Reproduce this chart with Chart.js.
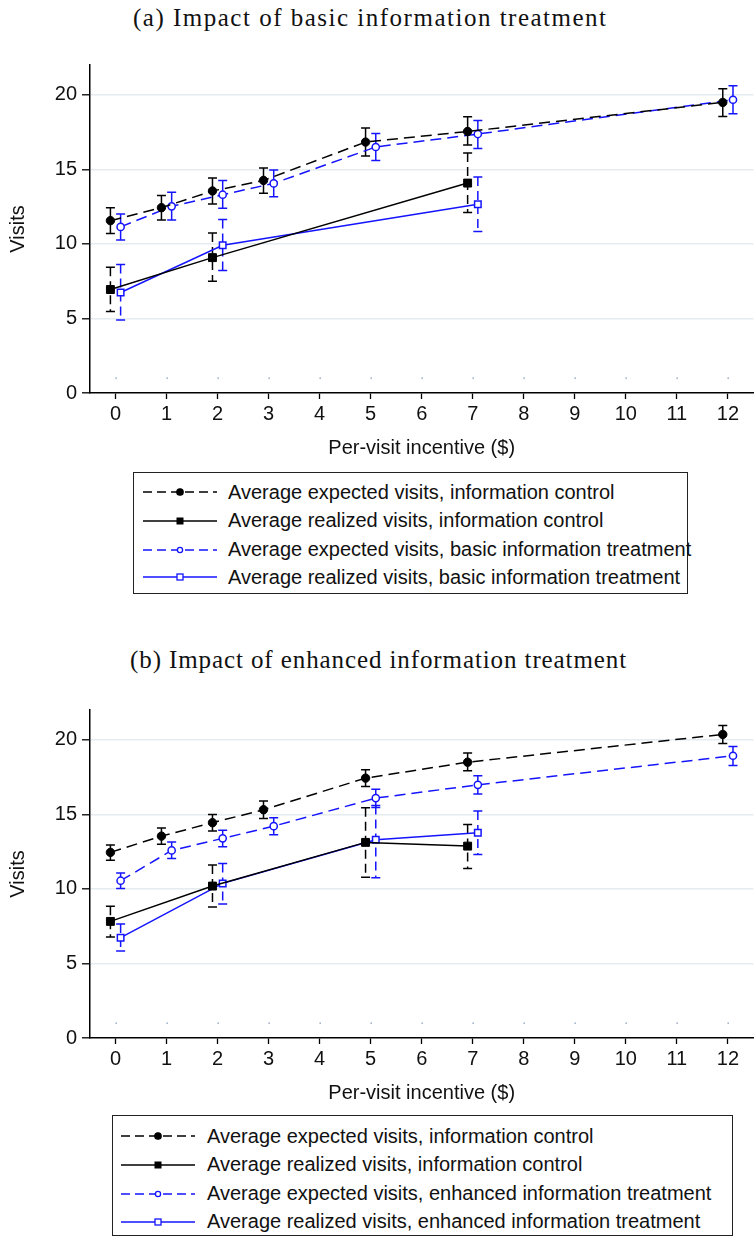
<!DOCTYPE html>
<html>
<head>
<meta charset="utf-8">
<script src="https://cdn.jsdelivr.net/npm/chart.js@4.4.1/dist/chart.umd.min.js"></script>
<style>
  html,body{margin:0;padding:0;background:#fff;}
  body{width:754px;height:1239px;position:relative;overflow:hidden;}
  .ptitle{position:absolute;font-family:"Liberation Serif","DejaVu Serif",serif;font-size:25px;letter-spacing:1.5px;color:#111;white-space:nowrap;line-height:1;}
  .cwrap{position:absolute;left:0;width:754px;height:430px;overflow:hidden;}
  .legend{position:absolute;border:1px solid #222;box-sizing:border-box;background:#fff;}
  .row{position:absolute;left:0;height:26px;display:flex;align-items:center;white-space:nowrap;}
  .row svg{flex:none;}
  .row span{font-family:"Liberation Sans",Arial,sans-serif;font-size:20px;color:#111;}
</style>
</head>
<body>
<div class="ptitle" id="ta" style="left:133px;top:5px;">(a) Impact of basic information treatment</div>
<div class="cwrap" style="top:40px;"><canvas id="ca" width="760" height="430"></canvas></div>
<div class="legend" id="la" style="left:133px;top:472px;width:555px;height:122px;"></div>

<div class="ptitle" id="tb" style="left:130px;top:647px;letter-spacing:0.9px;">(b) Impact of enhanced information treatment</div>
<div class="cwrap" style="top:685px;"><canvas id="cb" width="760" height="430"></canvas></div>
<div class="legend" id="lb" style="left:112px;top:1115px;width:621px;height:121px;"></div>

<script>
// ---------- DATA ----------
const incentives = [0, 1, 2, 3, 5, 7, 12];
const realizedIncentivesA = [0, 2, 7];
const realizedIncentivesB = [0, 2, 5, 7];
const xTickValues = [0, 1, 2, 3, 4, 5, 6, 7, 8, 9, 10, 11, 12];
const yTickValues = [0, 5, 10, 15, 20];

const seriesNamesA = [
  "Average expected visits, information control",
  "Average realized visits, information control",
  "Average expected visits, basic information treatment",
  "Average realized visits, basic information treatment"
];
const seriesNamesB = [
  "Average expected visits, information control",
  "Average realized visits, information control",
  "Average expected visits, enhanced information treatment",
  "Average realized visits, enhanced information treatment"
];

// Panel (a)
const aExpCtrl   = [11.56, 12.43, 13.55, 14.26, 16.83, 17.54, 19.49];
const aExpCtrlLo = [10.69, 11.60, 12.68, 13.39, 15.89, 16.63, 18.55];
const aExpCtrlHi = [12.43, 13.24, 14.42, 15.09, 17.77, 18.53, 20.40];
const aRealCtrl   = [6.94, 9.08, 14.08];
const aRealCtrlLo = [5.47, 7.50, 12.10];
const aRealCtrlHi = [8.44, 10.74, 16.10];
const aExpTrt   = [11.14, 12.52, 13.30, 14.06, 16.50, 17.37, 19.67];
const aExpTrtLo = [10.27, 11.60, 12.39, 13.17, 15.60, 16.40, 18.73];
const aExpTrtHi = [12.00, 13.46, 14.26, 14.96, 17.41, 18.28, 20.60];
const aRealTrt   = [6.74, 9.91, 12.66];
const aRealTrtLo = [4.89, 8.21, 10.83];
const aRealTrtHi = [8.62, 11.63, 14.49];

// Panel (b)
const bExpCtrl   = [12.45, 13.54, 14.44, 15.31, 17.43, 18.50, 20.36];
const bExpCtrlLo = [11.93, 13.00, 13.88, 14.73, 16.87, 17.92, 19.75];
const bExpCtrlHi = [12.94, 14.08, 14.99, 15.89, 17.99, 19.11, 20.96];
const bRealCtrl   = [7.82, 10.19, 13.12, 12.87];
const bRealCtrlLo = [6.77, 8.78, 10.79, 11.37];
const bRealCtrlHi = [8.83, 11.60, 15.44, 14.32];
const bExpTrt   = [10.55, 12.58, 13.39, 14.21, 16.09, 16.98, 18.93];
const bExpTrtLo = [10.03, 12.04, 12.83, 13.63, 15.46, 16.36, 18.28];
const bExpTrtHi = [11.06, 13.14, 13.94, 14.77, 16.69, 17.59, 19.55];
const bRealTrt   = [6.73, 10.37, 13.30, 13.77];
const bRealTrtLo = [5.83, 8.98, 10.75, 12.31];
const bRealTrtHi = [7.64, 11.71, 15.60, 15.22];

// ---------- STYLE ----------
const BLACK = '#000000';
const BLUE = '#1414ff';
const SHIFT = 0.1; // control drawn slightly left, treatment slightly right
const FONT = '"Liberation Sans", Arial, sans-serif';
const FS = 20;

function pts(xs, ys, dx) { return xs.map((x, i) => ({x: x + dx, y: ys[i]})); }

function makeDatasets(names, ec, ecl, ech, rx, rc, rcl, rch, et, etl, eth, rt, rtl, rth) {
  return [
    {label: names[0], data: pts(incentives, ec, -SHIFT), errLo: ecl, errHi: ech, errDash: [],
     borderColor: BLACK, backgroundColor: BLACK, borderDash: [11, 6], borderWidth: 1.5,
     pointStyle: 'circle', pointRadius: 4.2, pointBackgroundColor: BLACK, pointBorderColor: BLACK, pointBorderWidth: 1},
    {label: names[1], data: pts(rx, rc, -SHIFT), errLo: rcl, errHi: rch, errDash: [9, 5],
     borderColor: BLACK, backgroundColor: BLACK, borderDash: [], borderWidth: 1.5,
     pointStyle: 'rect', pointRadius: 5.6, pointBackgroundColor: BLACK, pointBorderColor: BLACK, pointBorderWidth: 1},
    {label: names[2], data: pts(incentives, et, SHIFT), errLo: etl, errHi: eth, errDash: [],
     borderColor: BLUE, backgroundColor: BLUE, borderDash: [11, 6], borderWidth: 1.5,
     pointStyle: 'circle', pointRadius: 3.6, pointBackgroundColor: '#ffffff', pointBorderColor: BLUE, pointBorderWidth: 1.5},
    {label: names[3], data: pts(rx, rt, SHIFT), errLo: rtl, errHi: rth, errDash: [9, 5],
     borderColor: BLUE, backgroundColor: BLUE, borderDash: [], borderWidth: 1.5,
     pointStyle: 'rect', pointRadius: 4.6, pointBackgroundColor: '#ffffff', pointBorderColor: BLUE, pointBorderWidth: 1.5}
  ];
}

const errorBarPlugin = {
  id: 'errorBars',
  beforeDatasetsDraw(chart) {
    const ctx = chart.ctx, xs = chart.scales.x, ys = chart.scales.y;
    ctx.save();
    // faint marker dots near the bottom of the plot at each x tick
    ctx.fillStyle = '#7891ae';
    xs.ticks.forEach(t => {
      const px = Math.round(xs.getPixelForValue(t.value));
      const py = Math.round(ys.getPixelForValue(1));
      ctx.fillRect(px - 0.5, py - 0.5, 1.3, 1.3);
    });
    ctx.lineWidth = 1.5;
    chart.data.datasets.forEach(ds => {
      ctx.strokeStyle = ds.borderColor;
      ds.data.forEach((p, i) => {
        const x = xs.getPixelForValue(p.x);
        const y1 = ys.getPixelForValue(ds.errLo[i]);
        const y2 = ys.getPixelForValue(ds.errHi[i]);
        ctx.setLineDash(ds.errDash);
        ctx.beginPath(); ctx.moveTo(x, y2); ctx.lineTo(x, y1); ctx.stroke();
        ctx.setLineDash([]);
        ctx.beginPath();
        ctx.moveTo(x - 4.5, y1); ctx.lineTo(x + 4.5, y1);
        ctx.moveTo(x - 4.5, y2); ctx.lineTo(x + 4.5, y2);
        ctx.stroke();
      });
    });
    ctx.restore();
  }
};

function makeChart(id, datasets) {
  return new Chart(document.getElementById(id), {
    type: 'line',
    data: {datasets},
    plugins: [errorBarPlugin],
    options: {
      responsive: false,
      animation: false,
      layout: {padding: {top: 25, right: 0, left: 0, bottom: 0}},
      plugins: {legend: {display: false}, tooltip: {enabled: false}},
      elements: {line: {tension: 0}},
      scales: {
        x: {
          type: 'linear', min: -0.5, max: 12.5,
          afterBuildTicks: s => { s.ticks = xTickValues.map(v => ({value: v})); },
          afterFit: s => { s.height = 77; },
          grid: {drawOnChartArea: false, drawTicks: true, tickLength: 6, tickColor: '#000', tickWidth: 1.3},
          border: {display: true, color: '#000', width: 1.5},
          ticks: {color: '#111', font: {family: FONT, size: FS}, padding: 3, maxRotation: 0, autoSkip: false},
          title: {display: true, text: 'Per-visit incentive ($)', color: '#111', font: {family: FONT, size: FS}, padding: {top: 0, bottom: 10}}
        },
        y: {
          type: 'linear', min: 0, max: 22,
          afterBuildTicks: s => { s.ticks = yTickValues.map(v => ({value: v})); },
          afterFit: s => { s.width = 90; },
          grid: {color: c => (c.tick && c.tick.value === 0) ? 'rgba(0,0,0,0)' : '#e4ecef', lineWidth: 1.6,
                 drawTicks: true, tickLength: 8, tickColor: '#000', tickWidth: 1.3},
          border: {display: true, color: '#000', width: 1.5},
          ticks: {color: '#111', font: {family: FONT, size: FS}, padding: 5},
          title: {display: true, text: 'Visits', color: '#111', font: {family: FONT, size: FS}, padding: {top: 6, bottom: 0}}
        }
      }
    }
  });
}

makeChart('ca', makeDatasets(seriesNamesA,
  aExpCtrl, aExpCtrlLo, aExpCtrlHi, realizedIncentivesA, aRealCtrl, aRealCtrlLo, aRealCtrlHi,
  aExpTrt, aExpTrtLo, aExpTrtHi, aRealTrt, aRealTrtLo, aRealTrtHi));
makeChart('cb', makeDatasets(seriesNamesB,
  bExpCtrl, bExpCtrlLo, bExpCtrlHi, realizedIncentivesB, bRealCtrl, bRealCtrlLo, bRealCtrlHi,
  bExpTrt, bExpTrtLo, bExpTrtHi, bRealTrt, bRealTrtLo, bRealTrtHi));

// ---------- LEGENDS ----------
const legendStyles = [
  {color: BLACK, dash: '9 5', marker: 'circle', fill: BLACK},
  {color: BLACK, dash: '', marker: 'square', fill: BLACK},
  {color: BLUE, dash: '9 5', marker: 'circle', fill: '#fff'},
  {color: BLUE, dash: '', marker: 'square', fill: '#fff'}
];
function sampleSvg(st) {
  const w = 74, h = 20, cy = 10, cx = 37;
  let m = st.marker === 'circle'
    ? `<circle cx="${cx}" cy="${cy}" r="${st.fill === '#fff' ? 2.6 : 3.2}" fill="${st.fill}" stroke="${st.color}" stroke-width="1.3"/>`
    : (st.fill === '#fff'
        ? `<rect x="${cx - 3}" y="${cy - 3}" width="6" height="6" fill="#fff" stroke="${st.color}" stroke-width="1.3"/>`
        : `<rect x="${cx - 3.5}" y="${cy - 3.5}" width="7" height="7" fill="${st.color}"/>`);
  return `<svg width="${w}" height="${h}" viewBox="0 0 ${w} ${h}"><line x1="0" y1="${cy}" x2="${w}" y2="${cy}" stroke="${st.color}" stroke-width="1.6" ${st.dash ? `stroke-dasharray="${st.dash}"` : ''}/>${m}</svg>`;
}
function buildLegend(id, names, rows, sampleLeft, textLeft) {
  const el = document.getElementById(id);
  names.forEach((n, i) => {
    const r = document.createElement('div');
    r.className = 'row';
    r.style.top = (rows[i] - 13) + 'px';
    r.style.left = sampleLeft + 'px';
    r.innerHTML = sampleSvg(legendStyles[i]) + `<span style="margin-left:${textLeft - sampleLeft - 74}px">${n}</span>`;
    el.appendChild(r);
  });
}
buildLegend('la', seriesNamesA, [19, 47.5, 76.5, 104], 9, 94);
buildLegend('lb', seriesNamesB, [20, 48.5, 77.5, 105.5], 8, 94);
</script>
</body>
</html>
